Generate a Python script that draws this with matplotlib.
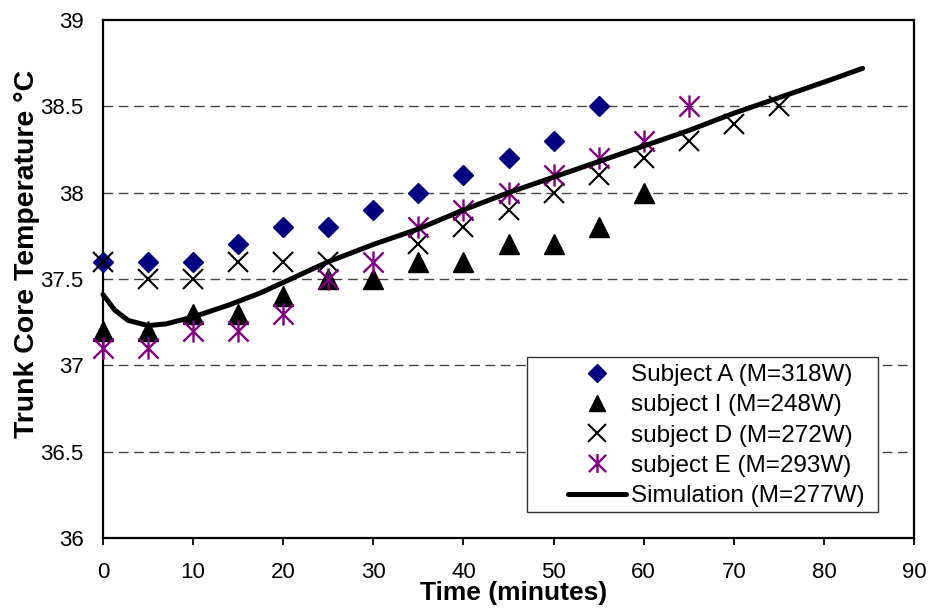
import numpy as np
import matplotlib
matplotlib.use("Agg")
import matplotlib.pyplot as plt
from matplotlib.path import Path
from matplotlib.patches import Rectangle

plt.rcParams['font.family'] = ['Liberation Sans', 'DejaVu Sans']

# ---- data ----
time_A = [0, 5, 10, 15, 20, 25, 30, 35, 40, 45, 50, 55]
temp_A = [37.6, 37.6, 37.6, 37.7, 37.8, 37.8, 37.9, 38.0, 38.1, 38.2, 38.3, 38.5]

time_I = [0, 5, 10, 15, 20, 25, 30, 35, 40, 45, 50, 55, 60]
temp_I = [37.2, 37.2, 37.3, 37.3, 37.4, 37.5, 37.5, 37.6, 37.6, 37.7, 37.7, 37.8, 38.0]

time_D = [0, 5, 10, 15, 20, 25, 35, 40, 45, 50, 55, 60, 65, 70, 75]
temp_D = [37.6, 37.5, 37.5, 37.6, 37.6, 37.6, 37.7, 37.8, 37.9, 38.0, 38.1, 38.2, 38.3, 38.4, 38.5]

time_E = [0, 5, 10, 15, 20, 25, 30, 35, 40, 45, 50, 55, 60, 65]
temp_E = [37.1, 37.1, 37.2, 37.2, 37.3, 37.5, 37.6, 37.8, 37.9, 38.0, 38.1, 38.2, 38.3, 38.5]

time_sim = [0, 1.3, 2.8, 5, 7, 10, 14, 17.5, 20, 25, 30, 35, 40, 45, 50, 55,
            60, 65, 70, 75, 80, 84.3]
temp_sim = [37.41, 37.32, 37.26, 37.23, 37.24, 37.28, 37.35, 37.42, 37.48, 37.60,
            37.70, 37.79, 37.90, 38.00, 38.09, 38.18, 38.27, 38.36, 38.46, 38.55,
            38.64, 38.72]

labels = ["Subject A (M=318W)", "subject I (M=248W)", "subject D (M=272W)",
          "subject E (M=293W)", "Simulation (M=277W)"]

x_ticks = [0, 10, 20, 30, 40, 50, 60, 70, 80, 90]
y_ticks = [36, 36.5, 37, 37.5, 38, 38.5, 39]

# ---- figure ----
W, H = 937, 612
fig = plt.figure(figsize=(W / 100, H / 100), dpi=100)
L, R, T, B = 103, 914, 20, 538
ax = fig.add_axes([L / W, 1 - B / H, (R - L) / W, (B - T) / H])

# asterisk marker (X + vertical bar)
ast = Path([(-0.5, -0.5), (0.5, 0.5), (-0.5, 0.5), (0.5, -0.5), (0, -0.55), (0, 0.55)],
           [Path.MOVETO, Path.LINETO, Path.MOVETO, Path.LINETO, Path.MOVETO, Path.LINETO])

hA, = ax.plot(time_A, temp_A, ls='none', marker='D', ms=10.5, color='#000080',
              mec='#000080', clip_on=False, zorder=3)
hI, = ax.plot(time_I, temp_I, ls='none', marker='^', ms=14, color='black',
              clip_on=False, zorder=3)
hD, = ax.plot(time_D, temp_D, ls='none', marker='x', ms=15, mew=1.5, color='black',
              clip_on=False, zorder=3)
hE, = ax.plot(time_E, temp_E, ls='none', marker=ast, ms=16, mew=1.7, color='#800080',
              mfc='none', clip_on=False, zorder=3)
hS, = ax.plot(time_sim, temp_sim, color='black', lw=3.6, solid_capstyle='round',
              zorder=4, clip_on=False)

ax.set_xlim(0, 90)
ax.set_ylim(36, 39)
ax.set_xticks(x_ticks)
ax.set_yticks(y_ticks)
ax.set_yticklabels([f"{v:g}" for v in y_ticks])
ax.tick_params(axis='x', direction='out', length=5, width=1.3, pad=12, labelsize=16)
ax.tick_params(axis='y', length=0, pad=14, labelsize=16)

for g in [36.5, 37, 37.5, 38, 38.5]:
    ax.axhline(g, color='#444444', lw=1.0, ls=(0, (7, 4)), zorder=1)

for s in ax.spines.values():
    s.set_linewidth(1.6)
    s.set_color('black')

# legend frame
x0 = (527 - L) / (R - L)
x1 = (878 - L) / (R - L)
y0 = (B - 512) / (B - T)
y1 = (B - 357) / (B - T)
ax.add_patch(Rectangle((x0, y0), x1 - x0, y1 - y0, transform=ax.transAxes,
                       facecolor='white', edgecolor='#333333', lw=1.0, zorder=5,
                       clip_on=False))

leg = ax.legend([hA, hI, hD, hE, hS], labels, loc='upper left',
                bbox_to_anchor=((568 - L) / (R - L), (B - 364) / (B - T)),
                frameon=False, fontsize=17.5, borderpad=0, borderaxespad=0,
                handlelength=2.4, handletextpad=0.2, labelspacing=0.34,
                markerscale=0.85)
leg.set_zorder(6)

fig.text(514 / W, 1 - 593 / H, "Time (minutes)", fontsize=19, fontweight='bold',
         ha='center', va='center')
fig.text(27 / W, 1 - 254 / H, "Trunk Core Temperature °C", fontsize=20.5,
         fontweight='bold', ha='center', va='center', rotation=90)

fig.savefig("out.png", dpi=100)
